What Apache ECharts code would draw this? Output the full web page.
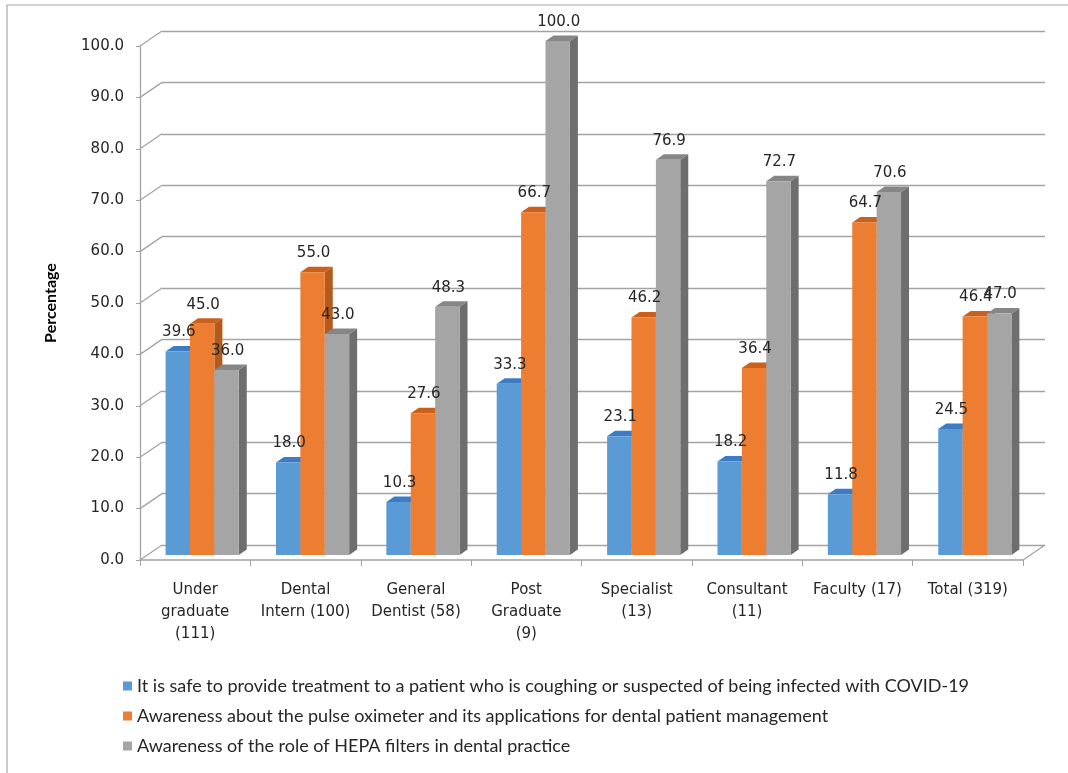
<!DOCTYPE html>
<html>
<head>
<meta charset="utf-8">
<script src="https://cdn.jsdelivr.net/npm/echarts@6/dist/echarts.min.js"></script>
<style>
  html, body { margin: 0; padding: 0; background: #fff; }
  #chart { width: 1068px; height: 773px; }
</style>
</head>
<body>
<div id="chart"></div>
<script>
// Respondent groups (with group sizes) along the category axis
const categories = [
  'Under\ngraduate\n(111)', 'Dental\nIntern (100)', 'General\nDentist (58)', 'Post\nGraduate\n(9)',
  'Specialist\n(13)', 'Consultant\n(11)', 'Faculty (17)', 'Total (319)'
];
const seriesNames = [
  'It is safe to provide treatment to a patient who is coughing or suspected of being infected with COVID-19',
  'Awareness about the pulse oximeter and its applications for dental patient management',
  'Awareness of the role of HEPA filters in dental practice'
];
// Percentages per group
const safeTreatment = [39.6, 18.0, 10.3, 33.3, 23.1, 18.2, 11.8, 24.5];
const pulseOximeter = [45.0, 55.0, 27.6, 66.7, 46.2, 36.4, 64.7, 46.4];
const hepaFilters   = [36.0, 43.0, 48.3, 100.0, 76.9, 72.7, 70.6, 47.0];
const yTicks = [0, 10, 20, 30, 40, 50, 60, 70, 80, 90, 100];

// Pseudo-3D geometry (pixels)
const WALL_DX = 22, WALL_DY = -15;   // back wall offset from the front plane
const FACE_DX = 7, FACE_DY = -5;     // bar front faces sit a little behind the front plane
const BAR_DX = 8, BAR_DY = -5.5;     // bar depth
const BAR_FRAC = 0.221;              // bar width as a fraction of the category band

const palette = [
  { face: '#5b9bd5', side: '#3f76a8', top: '#3c7cc4' },
  { face: '#ed7d31', side: '#b45a1d', top: '#c9601c' },
  { face: '#a5a5a5', side: '#6e6e6e', top: '#868686' }
];

const chart = echarts.init(document.getElementById('chart'), null, { renderer: 'canvas' });

function barRenderer(idx) {
  const c = palette[idx];
  return function (params, api) {
    const cat = api.value(0), val = api.value(1);
    const base = api.coord([cat, 0]);
    const peak = api.coord([cat, val]);
    const band = api.size([1, 0])[0];
    const bw = band * BAR_FRAC;
    const x0 = base[0] - 1.5 * bw + idx * bw + FACE_DX;
    const x1 = x0 + bw;
    const yb = base[1] + FACE_DY;
    const yt = peak[1] + FACE_DY;
    return {
      type: 'group',
      children: [
        { type: 'polygon', z2: idx,
          shape: { points: [[x1, yb], [x1 + BAR_DX, yb + BAR_DY], [x1 + BAR_DX, yt + BAR_DY], [x1, yt]] },
          style: { fill: c.side } },
        { type: 'polygon', z2: idx,
          shape: { points: [[x0, yt], [x1, yt], [x1 + BAR_DX, yt + BAR_DY], [x0 + BAR_DX, yt + BAR_DY]] },
          style: { fill: c.top } },
        { type: 'rect', z2: idx,
          shape: { x: x0, y: yt, width: bw, height: yb - yt },
          style: { fill: c.face } },
        { type: 'text', z2: 20,
          x: x0 + bw / 2 + 1, y: yt - 19,
          style: { text: val.toFixed(1), fill: '#262626', font: '15px "DejaVu Sans"',
                   align: 'center', verticalAlign: 'middle' } }
      ]
    };
  };
}

function wallRenderer(params, api) {
  const v = api.value(1);
  const p = api.coord([0, v]);
  const cs = params.coordSys;
  const lineStyle = { stroke: '#a3a3a3', lineWidth: 1.3 };
  const children = [
    { type: 'line', shape: { x1: cs.x, y1: p[1], x2: cs.x + WALL_DX, y2: p[1] + WALL_DY }, style: lineStyle }
  ];
  if (v === 0) {
    const xr = cs.x + cs.width;
    children.push({ type: 'line', shape: { x1: xr, y1: p[1], x2: xr + WALL_DX, y2: p[1] + WALL_DY }, style: lineStyle });
  }
  return { type: 'group', children: children };
}

const toPairs = arr => arr.map((v, i) => [i, v]);

const option = {
  backgroundColor: '#ffffff',
  animation: false,
  grid: [
    { left: 140, top: 46, width: 883, height: 514 },
    { left: 140 + WALL_DX, top: 46 + WALL_DY, width: 883, height: 514 }
  ],
  xAxis: [
    { type: 'category', gridIndex: 0, data: categories,
      axisLine: { show: true, lineStyle: { color: '#a3a3a3', width: 1.5 } },
      axisTick: { show: true, length: 6, lineStyle: { color: '#a3a3a3' } },
      axisLabel: { fontFamily: 'DejaVu Sans', fontSize: 15, color: '#262626', lineHeight: 22, margin: 19, interval: 0 } },
    { type: 'category', gridIndex: 1, data: categories, show: false }
  ],
  yAxis: [
    { type: 'value', gridIndex: 0, min: 0, max: 100, interval: 10,
      axisLine: { show: true, lineStyle: { color: '#a3a3a3', width: 1.3 } },
      axisTick: { show: true, length: 4, lineStyle: { color: '#a3a3a3' } },
      splitLine: { show: false },
      axisLabel: { fontFamily: 'DejaVu Sans', fontSize: 15, color: '#262626', margin: 16,
                   formatter: v => v.toFixed(1) } },
    { type: 'value', gridIndex: 1, min: 0, max: 100, interval: 10,
      axisLine: { show: false }, axisTick: { show: false }, axisLabel: { show: false },
      splitLine: { show: true, lineStyle: { color: '#a3a3a3', width: 1.3 } } }
  ],
  legend: {
    orient: 'vertical', left: 123, top: 676, padding: 0,
    itemWidth: 9, itemHeight: 9, itemGap: 10, icon: 'rect',
    data: seriesNames,
    textStyle: { fontFamily: 'Lato', fontSize: 18, color: '#262626', lineHeight: 20 }
  },
  graphic: [
    { type: 'rect', silent: true, shape: { x: 7, y: 5, width: 1200, height: 900 },
      style: { fill: 'none', stroke: '#a8a8a8', lineWidth: 1.2 } },
    { type: 'text', x: 51, y: 303, rotation: Math.PI / 2,
      style: { text: 'Percentage', font: 'bold 16px Lato', fill: '#000', align: 'center', verticalAlign: 'middle' } }
  ],
  series: [
    { type: 'custom', name: 'wall', xAxisIndex: 0, yAxisIndex: 0, silent: true,
      data: yTicks.map(v => [0, v]), renderItem: wallRenderer, encode: { x: 0, y: 1 } },
    { type: 'custom', name: seriesNames[0], xAxisIndex: 0, yAxisIndex: 0, itemStyle: { color: palette[0].face },
      data: toPairs(safeTreatment), renderItem: barRenderer(0), encode: { x: 0, y: 1 } },
    { type: 'custom', name: seriesNames[1], xAxisIndex: 0, yAxisIndex: 0, itemStyle: { color: palette[1].face },
      data: toPairs(pulseOximeter), renderItem: barRenderer(1), encode: { x: 0, y: 1 } },
    { type: 'custom', name: seriesNames[2], xAxisIndex: 0, yAxisIndex: 0, itemStyle: { color: palette[2].face },
      data: toPairs(hepaFilters), renderItem: barRenderer(2), encode: { x: 0, y: 1 } }
  ]
};

chart.setOption(option);
</script>
</body>
</html>
